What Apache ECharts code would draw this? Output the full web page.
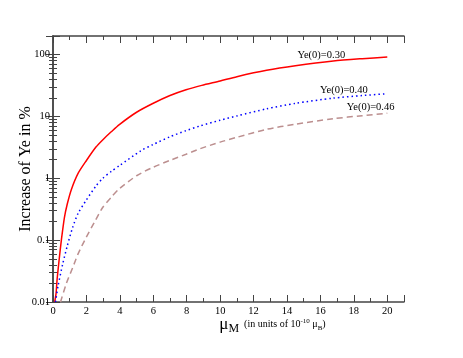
<!DOCTYPE html>
<html>
<head>
<meta charset="utf-8">
<script src="https://cdn.jsdelivr.net/npm/echarts@6/dist/echarts.min.js"></script>
<style>
  html, body { margin: 0; padding: 0; background: #fff; }
  #chart { width: 463px; height: 358px; }
</style>
</head>
<body>
<div id="chart"></div>
<script>
// values (x in units of 1e-10 mu_B, y in %)
var redX = [0.1, 0.18, 0.25, 0.38, 0.5, 0.68, 0.85, 1.1, 1.5, 2, 2.57, 3, 3.5, 3.97, 5, 5.97, 7, 7.96, 8.9, 10, 11, 12.78, 14.5, 16.77, 18.5, 20];
var redY = [0.01, 0.0135, 0.024, 0.052, 0.1, 0.23, 0.38, 0.66, 1.2, 1.94, 3.2, 4.25, 5.7, 7.4, 11.7, 16.2, 21.8, 27, 31.8, 37.5, 44, 55.7, 66, 78.8, 86, 91.5];

var blueX = [0.15, 0.3, 0.58, 0.85, 1.18, 1.5, 1.98, 2.57, 2.98, 3.5, 3.97, 5.27, 5.97, 7, 7.96, 8.78, 10, 11, 12.78, 14.5, 16.77, 18.5, 20];
var blueY = [0.01, 0.018, 0.041, 0.08, 0.162, 0.27, 0.44, 0.75, 1.0, 1.3, 1.6, 2.8, 3.5, 4.7, 5.9, 7.0, 8.7, 10.2, 13.3, 16.3, 19.8, 21.8, 23.3];

var brownX = [0.45, 0.8, 1.18, 1.5, 1.98, 2.5, 2.98, 3.5, 3.97, 5, 5.97, 7, 7.96, 8.78, 10, 11, 12.78, 14.5, 16.77, 18.5, 20];
var brownY = [0.01, 0.02, 0.036, 0.06, 0.11, 0.2, 0.34, 0.5, 0.68, 1.1, 1.5, 1.95, 2.45, 3.0, 3.85, 4.6, 6.2, 7.5, 9.2, 10.3, 11.3];

var curveNames = ['Ye(0)=0.30', 'Ye(0)=0.40', 'Ye(0)=0.46'];
var labelX = [16.05, 17.4, 19.0];
var labelY = [97, 26.4, 14.2];

var serif = 'Liberation Serif';

function pairs(xs, ys) {
  return xs.map(function (x, i) { return [x, ys[i]]; });
}

function isDecade(v) {
  var l = Math.log10(v);
  return Math.abs(l - Math.round(l)) < 1e-6;
}

var chart = echarts.init(document.getElementById('chart'));

var axisColor = '#444';
var frameLine = { show: true, lineStyle: { color: axisColor, width: 1.5 } };
var majorTick = { show: true, inside: true, length: 7, lineStyle: { color: axisColor } };
var minorTick = function (n) {
  return { show: true, splitNumber: n, length: 4, lineStyle: { color: axisColor } };
};

function curve(name, data, color, type, idx) {
  return {
    name: name,
    type: 'line',
    xAxisIndex: 0,
    yAxisIndex: 0,
    data: data,
    showSymbol: false,
    symbol: 'none',
    smooth: 0.25,
    lineStyle: { color: color, width: 1.5, type: type },
    markPoint: {
      symbol: 'circle',
      symbolSize: 1,
      itemStyle: { color: 'rgba(0,0,0,0)' },
      data: [{
        coord: [labelX[idx], labelY[idx]],
        label: {
          show: true,
          formatter: name,
          position: 'inside',
          color: '#000',
          fontFamily: serif,
          fontSize: 10.5
        }
      }]
    }
  };
}

var option = {
  backgroundColor: '#fff',
  animation: false,
  grid: { left: 53, right: 59, top: 36, bottom: 56, outerBoundsMode: 'none' },
  xAxis: [
    {
      type: 'value', min: 0, max: 21, interval: 2,
      position: 'bottom',
      axisLine: frameLine,
      axisTick: majorTick,
      minorTick: minorTick(2),
      splitLine: { show: false },
      axisLabel: {
        color: '#000', fontFamily: serif, fontSize: 10.5, margin: 4,
        formatter: function (v) { return (v % 2 === 0 && v <= 20) ? String(v) : ''; }
      },
      name: '{mu|μ}{sub|M}{small|  (in units of 10}{sup|-10}{small| μ}{sub2|B}{small|)}',
      nameLocation: 'middle',
      nameGap: 12,
      nameMoveOverlap: false,
      nameTextStyle: {
        padding: [0, 0, 0, 88],
        rich: {
          mu: { fontFamily: serif, fontSize: 17, color: '#000' },
          sub: { fontFamily: serif, fontSize: 12, color: '#000', padding: [9, 0, 0, 0] },
          small: { fontFamily: serif, fontSize: 10, color: '#000' },
          sup: { fontFamily: serif, fontSize: 7, color: '#000', padding: [0, 0, 7, 0] },
          sub2: { fontFamily: serif, fontSize: 7, color: '#000', padding: [7, 0, 0, 0] }
        }
      }
    },
    {
      type: 'value', min: 0, max: 21, interval: 2,
      position: 'top',
      axisLine: frameLine,
      axisTick: majorTick,
      minorTick: minorTick(2),
      splitLine: { show: false },
      axisLabel: { show: false }
    }
  ],
  yAxis: [
    {
      type: 'log', logBase: 10, min: 0.01, max: 200,
      position: 'left',
      axisLine: frameLine,
      axisTick: majorTick,
      minorTick: minorTick(9),
      splitLine: { show: false },
      axisLabel: {
        color: '#000', fontFamily: serif, fontSize: 10.5, margin: 3,
        formatter: function (v) { return isDecade(v) ? String(+v.toPrecision(6)) : ''; }
      },
      name: 'Increase of Ye in %',
      nameLocation: 'middle',
      nameGap: 19,
      nameMoveOverlap: false,
      nameTextStyle: { color: '#000', fontFamily: serif, fontSize: 16 }
    },
    {
      type: 'log', logBase: 10, min: 0.01, max: 200,
      position: 'right',
      axisLine: frameLine,
      axisTick: majorTick,
      minorTick: minorTick(9),
      splitLine: { show: false },
      axisLabel: { show: false }
    }
  ],
  series: [
    curve(curveNames[0], pairs(redX, redY), '#ff0000', 'solid', 0),
    curve(curveNames[1], pairs(blueX, blueY), '#0000ff', [1.5, 3], 1),
    curve(curveNames[2], pairs(brownX, brownY), '#bc8f8f', [6, 4], 2)
  ]
};

chart.setOption(option);
</script>
</body>
</html>
